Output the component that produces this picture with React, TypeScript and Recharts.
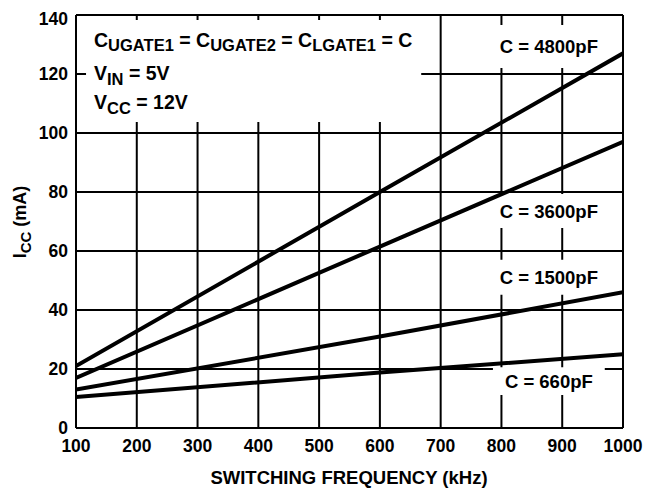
import React from 'react';
import { CartesianGrid, Customized, Line, LineChart, ReferenceArea, XAxis, YAxis } from 'recharts';

const freq = [100, 600, 1000];
const c4800 = [21, 80, 127];
const c3600 = [17, 61.5, 97];
const c1500 = [13, 31, 46];
const c660 = [10.5, 18.8, 25];

const xTicks = [100, 200, 300, 400, 500, 600, 700, 800, 900, 1000];
const yTicks = [0, 20, 40, 60, 80, 100, 120, 140];

const seriesNames = ['C = 4800pF', 'C = 3600pF', 'C = 1500pF', 'C = 660pF'];
const seriesValues = [c4800, c3600, c1500, c660];

const FONT = '"Liberation Sans", Arial, sans-serif';

const toPoints = (vals: number[]) => freq.map((f, i) => ({ f, v: vals[i] }));

// white boxes behind the curve labels, in data units
const labelBoxes = [
  { x1: 786, x2: 970, y1: 122, y2: 136.6 },
  { x1: 786, x2: 970, y1: 67.8, y2: 79.3 },
  { x1: 786, x2: 970, y1: 45.2, y2: 57 },
  { x1: 786, x2: 970, y1: 11.2, y2: 20.6 },
];

function CenterLabel({ viewBox, text }: any) {
  const { x, y, width, height } = viewBox;
  return (
    <text x={x + width / 2} y={y + height / 2} textAnchor="middle" dominantBaseline="central"
      fontFamily={FONT} fontWeight="bold" fontSize={18.5} fill="#000">
      {text}
    </text>
  );
}

function Conditions({ viewBox }: any) {
  const { x, y } = viewBox;
  const tx = x + 8;
  const sub = 16.5;
  return (
    <text fontFamily={FONT} fontWeight="bold" fontSize={19.5} fill="#000">
      <tspan x={tx} y={y + 27}>C</tspan>
      <tspan fontSize={sub} dy={4}>UGATE1</tspan>
      <tspan dy={-4}> = C</tspan>
      <tspan fontSize={sub} dy={4}>UGATE2</tspan>
      <tspan dy={-4}> = C</tspan>
      <tspan fontSize={sub} dy={4}>LGATE1</tspan>
      <tspan dy={-4}> = C</tspan>
      <tspan x={tx} y={y + 60}>V</tspan>
      <tspan fontSize={sub} dy={5}>IN</tspan>
      <tspan dy={-5}> = 5V</tspan>
      <tspan x={tx} y={y + 89}>V</tspan>
      <tspan fontSize={sub} dy={5}>CC</tspan>
      <tspan dy={-5}> = 12V</tspan>
    </text>
  );
}

function Titles() {
  return (
    <g fontFamily={FONT} fontWeight="bold" fill="#000">
      <text x={341} y={476} textAnchor="middle" fontSize={18.5}>SWITCHING FREQUENCY (kHz)</text>
      <text x={18} y={214} textAnchor="middle" fontSize={18} transform="rotate(-90 18 214)">
        <tspan>I</tspan>
        <tspan fontSize={15} dy={5}>CC</tspan>
        <tspan dy={-5}> (mA)</tspan>
      </text>
    </g>
  );
}

export default function App() {
  const tick = { fill: '#000', fontFamily: FONT, fontWeight: 'bold', fontSize: 17.5 } as any;
  return (
    <div style={{ padding: '8px 0 0 8px', width: 637, height: 481 }}>
      <style>{'html,body{margin:0;overflow:hidden}'}</style>
      <LineChart width={637} height={481} margin={{ top: 7, right: 22, left: 8, bottom: 31 }}>
        <CartesianGrid stroke="#000" strokeWidth={2} />
        <XAxis type="number" dataKey="f" domain={[100, 1000]} ticks={xTicks} height={30}
          tick={tick} tickSize={0} tickMargin={12} axisLine={{ stroke: '#000', strokeWidth: 2 }} allowDataOverflow />
        <YAxis type="number" domain={[0, 140]} ticks={yTicks} width={60}
          tick={tick} tickSize={0} tickMargin={8} axisLine={{ stroke: '#000', strokeWidth: 2 }} />
        <ReferenceArea x1={116.5} x2={668} y1={103.7} y2={138.3} fill="#fff" fillOpacity={1} stroke="none"
          label={<Conditions />} />
        {labelBoxes.map((b, i) => (
          <ReferenceArea key={i} {...b} fill="#fff" fillOpacity={1} stroke="none"
            label={<CenterLabel text={seriesNames[i]} />} />
        ))}
        {seriesValues.map((vals, i) => (
          <Line key={i} data={toPoints(vals)} dataKey="v" type="linear" stroke="#000" strokeWidth={4}
            dot={false} isAnimationActive={false} />
        ))}
        <Customized component={Titles} />
      </LineChart>
    </div>
  );
}
